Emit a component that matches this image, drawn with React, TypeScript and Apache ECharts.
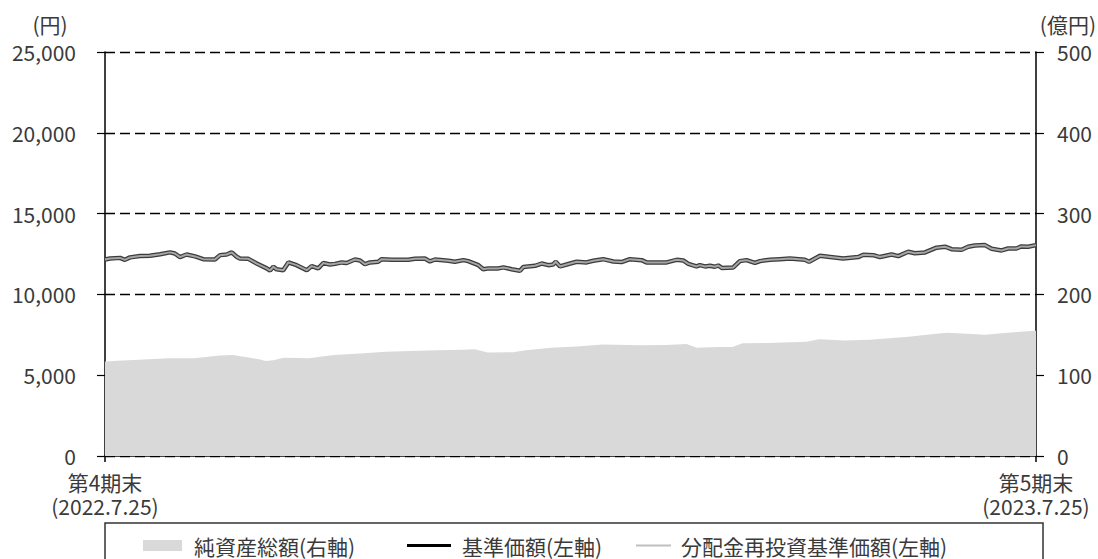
import React, { useEffect, useRef } from "react";
import * as echarts from "echarts";

// days since 第4期末 (2022.7.25) and 基準価額 (円)
const navDays = [0, 2, 5.9, 7.8, 9.8, 13.7, 17.6, 21.6, 25.5, 27.4, 29.4, 32, 35.3, 38.5, 43.1, 45.1, 47.7, 49.7, 51.6, 52.9, 56.2, 59.5, 63.4, 64.7, 66, 67.3, 69.9, 71.9, 75.1, 79.1, 81, 83.6, 85.6, 88.2, 90.2, 92.8, 94.7, 98, 100, 101.9, 103.9, 107.1, 108.5, 112.4, 118.9, 121.5, 125.4, 127.4, 129.4, 134.6, 137.2, 140.5, 142.4, 146.4, 148.3, 150.3, 154.2, 156.2, 159.4, 162.7, 164, 168.6, 171.2, 173.8, 175.7, 176.7, 178.4, 181, 184.9, 188.8, 191.4, 195.3, 199.3, 202.5, 205.8, 210.4, 212.3, 220.2, 224.1, 226.7, 228.7, 231.9, 233.2, 235.2, 237.2, 239.1, 240.4, 241.8, 246.3, 248.9, 251.5, 254.8, 256.8, 260.7, 264.6, 268.5, 274.4, 276, 280.3, 283.5, 289.4, 295.3, 297.3, 301.2, 303.8, 308.4, 311, 314.9, 317.5, 321.5, 326, 329.3, 331.9, 335.8, 338.4, 341, 345, 347.6, 351.5, 354.1, 357.3, 359.3, 361.9, 365];
const navValues = [12160, 12220, 12260, 12140, 12290, 12370, 12390, 12490, 12600, 12530, 12310, 12470, 12350, 12180, 12160, 12430, 12470, 12600, 12330, 12220, 12200, 11910, 11610, 11480, 11710, 11550, 11500, 11980, 11810, 11500, 11750, 11610, 11940, 11850, 11890, 11980, 11940, 12160, 12100, 11870, 11980, 12020, 12180, 12140, 12140, 12200, 12220, 12040, 12160, 12080, 12020, 12120, 12060, 11810, 11560, 11610, 11610, 11670, 11560, 11460, 11690, 11770, 11910, 11810, 11850, 12020, 11730, 11850, 12020, 11980, 12080, 12180, 12040, 12000, 12180, 12120, 11980, 11980, 12140, 12100, 11890, 11730, 11810, 11730, 11770, 11710, 11790, 11640, 11670, 12060, 12120, 11950, 12060, 12140, 12180, 12220, 12140, 12020, 12390, 12330, 12220, 12310, 12450, 12430, 12310, 12470, 12370, 12640, 12550, 12600, 12890, 12950, 12800, 12760, 12950, 13030, 13050, 12820, 12720, 12840, 12840, 12970, 12950, 13050];
// 分配金再投資基準価額 (no distributions paid: same as 基準価額)
const reinvestedValues = navValues.slice();

// 純資産総額 (億円)
const assetDays = [0, 5, 15, 25, 35, 45, 50, 55, 60, 63, 66, 70, 80, 85, 90, 100, 110, 120, 130, 140, 145, 150, 160, 165, 175, 185, 195, 210, 220, 228, 232, 240, 246, 250, 260, 275, 280, 290, 300, 315, 325, 330, 340, 345, 355, 365];
const assetValues = [117, 118, 119.5, 121, 121, 124.5, 125, 122.5, 120, 117.5, 118.5, 121.5, 121, 123, 125, 127, 129, 130, 131, 131.5, 132, 128, 128.5, 131, 134, 135.5, 138, 137, 137.5, 138.5, 134, 135, 135, 139.5, 140, 141.5, 144.5, 143, 144, 147.5, 151, 152.5, 151, 150, 153, 155];

const xLabels = ["第4期末\n(2022.7.25)", "第5期末\n(2023.7.25)"];
const seriesNames = ["純資産総額(右軸)", "基準価額(左軸)", "分配金再投資基準価額(左軸)"];

const FONT = "'Noto Sans CJK JP', 'Noto Sans', sans-serif";
const TXT = "#3a3a3a";
const FS = 21;

export default function App() {
  const ref = useRef<HTMLDivElement>(null);
  useEffect(() => {
    if (!ref.current) return;
    const chart = echarts.init(ref.current, null, { renderer: "svg" });
    const pair = (d: number[], v: number[]) => d.map((x, i) => [x, v[i]]);
    const legendText = { fontSize: FS, color: TXT, fontFamily: FONT };
    chart.setOption({
      animation: false,
      textStyle: { fontFamily: FONT },
      grid: { left: 105, right: 62, top: 52, bottom: 103, containLabel: false },
      xAxis: {
        type: "value",
        min: 0,
        max: 365,
        interval: 365,
        axisLine: { show: true, lineStyle: { color: "#000", width: 1.5 } },
        axisTick: { show: true, length: 6, lineStyle: { color: "#000", width: 1.5 } },
        splitLine: { show: false },
        axisLabel: {
          fontSize: FS,
          lineHeight: 24,
          color: TXT,
          fontFamily: FONT,
          margin: 14,
          showMinLabel: true,
          showMaxLabel: true,
          formatter: (v: number) => (v === 0 ? xLabels[0] : v === 365 ? xLabels[1] : ""),
        },
      },
      yAxis: [
        {
          type: "value",
          min: 0,
          max: 25000,
          interval: 5000,
          position: "left",
          axisLine: { show: true, lineStyle: { color: "#000", width: 1.5 } },
          axisTick: { show: true, length: 8, lineStyle: { color: "#000", width: 1.2 } },
          splitLine: { show: true, lineStyle: { color: "#000", width: 1.3, type: [10, 5] } },
          axisLabel: {
            fontSize: FS,
            color: TXT,
            fontFamily: FONT,
            margin: 29,
            formatter: (v: number) => v.toLocaleString("en-US"),
          },
        },
        {
          type: "value",
          min: 0,
          max: 500,
          interval: 100,
          position: "right",
          axisLine: { show: true, lineStyle: { color: "#000", width: 1.5 } },
          axisTick: { show: true, length: 8, lineStyle: { color: "#000", width: 1.2 } },
          splitLine: { show: false },
          axisLabel: { fontSize: FS, color: TXT, fontFamily: FONT, margin: 21 },
        },
      ],
      legend: [
        {
          data: [{ name: seriesNames[0], icon: "rect" }],
          left: 143,
          top: 535,
          padding: 0,
          itemWidth: 39,
          itemHeight: 11,
          itemGap: 0,
          textStyle: { ...legendText, padding: [0, 0, 0, 7] },
          selectedMode: false,
        },
        {
          data: [{ name: seriesNames[1], icon: "rect", itemStyle: { color: "#000" } }],
          left: 407,
          top: 535,
          padding: 0,
          itemWidth: 44,
          itemHeight: 3,
          textStyle: { ...legendText, padding: [0, 0, 0, 6] },
          selectedMode: false,
        },
        {
          data: [{ name: seriesNames[2], icon: "rect", itemStyle: { color: "#bfbfbf" } }],
          left: 636,
          top: 535,
          padding: 0,
          itemWidth: 35,
          itemHeight: 2,
          textStyle: { ...legendText, padding: [0, 0, 0, 5] },
          selectedMode: false,
        },
      ],
      graphic: [
        {
          type: "rect",
          shape: { x: 105, y: 523, width: 938, height: 60 },
          style: { fill: "none", stroke: "#333", lineWidth: 1.5 },
          silent: true,
        },
        {
          type: "text",
          x: 50,
          y: 24,
          style: { text: "(円)", fill: TXT, font: `${FS}px ${FONT}`, align: "center", verticalAlign: "middle" },
        },
        {
          type: "text",
          x: 1096,
          y: 24,
          style: { text: "(億円)", fill: TXT, font: `${FS}px ${FONT}`, align: "right", verticalAlign: "middle" },
        },
      ],
      series: [
        {
          name: seriesNames[0],
          type: "line",
          yAxisIndex: 1,
          data: pair(assetDays, assetValues),
          symbol: "none",
          lineStyle: { width: 0 },
          itemStyle: { color: "#d9d9d9" },
          areaStyle: { color: "#d9d9d9", opacity: 1 },
          z: 1,
        },
        {
          name: seriesNames[1],
          type: "line",
          yAxisIndex: 0,
          data: pair(navDays, navValues),
          symbol: "none",
          lineStyle: { width: 4.5, color: "#3c3c3c" },
          itemStyle: { color: "#000" },
          z: 3,
        },
        {
          name: seriesNames[2],
          type: "line",
          yAxisIndex: 0,
          data: pair(navDays, reinvestedValues),
          symbol: "none",
          lineStyle: { width: 2, color: "#a6a6a6" },
          itemStyle: { color: "#bfbfbf" },
          z: 4,
        },
      ],
    });
    return () => chart.dispose();
  }, []);
  return (
    <div
      ref={ref}
      style={{ position: "absolute", left: 0, top: 0, width: 1098, height: 559 }}
    />
  );
}
